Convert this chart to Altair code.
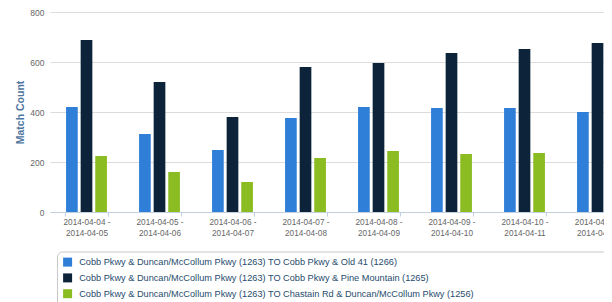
import altair as alt
import pandas as pd

periods = [
    "2014-04-04 - 2014-04-05",
    "2014-04-05 - 2014-04-06",
    "2014-04-06 - 2014-04-07",
    "2014-04-07 - 2014-04-08",
    "2014-04-08 - 2014-04-09",
    "2014-04-09 - 2014-04-10",
    "2014-04-10 - 2014-04-11",
    "2014-04-11 - 2014-04-12",
]
series = [
    "Cobb Pkwy & Duncan/McCollum Pkwy (1263) TO Cobb Pkwy & Old 41 (1266)",
    "Cobb Pkwy & Duncan/McCollum Pkwy (1263) TO Cobb Pkwy & Pine Mountain (1265)",
    "Cobb Pkwy & Duncan/McCollum Pkwy (1263) TO Chastain Rd & Duncan/McCollum Pkwy (1256)",
]
old41 = [420, 312, 248, 376, 420, 416, 416, 400]
pine_mountain = [688, 520, 380, 580, 596, 636, 652, 676]
chastain = [224, 160, 120, 216, 244, 232, 236, 264]
colors = ["#2f7ed8", "#0d233a", "#8bbc21"]

rows = []
for s, vals in zip(series, [old41, pine_mountain, chastain]):
    for p, v in zip(periods, vals):
        rows.append({"period": p, "series": s, "count": v})
df = pd.DataFrame(rows)

FONT = "Liberation Sans"

bars = alt.Chart(df).mark_bar(clip=True).encode(
    x=alt.X(
        "period:N",
        sort=periods,
        scale=alt.Scale(range=[0, 584], paddingInner=0.4, paddingOuter=0.2),
        axis=alt.Axis(
            title=None,
            labelAngle=0,
            labelExpr="[slice(datum.label, 0, 12), slice(datum.label, 13)]",
            labelFontSize=8.2,
            labelFont=FONT,
            labelColor="#666666",
            labelLineHeight=11,
            labelPadding=2,
            domainColor="#c0d0e0",
            tickColor="#c0d0e0",
            tickSize=4,
            tickBand="extent",
            grid=False,
        ),
    ),
    xOffset=alt.XOffset(
        "series:N", sort=series, scale=alt.Scale(paddingInner=0.2, paddingOuter=0.1)
    ),
    y=alt.Y(
        "count:Q",
        scale=alt.Scale(domain=[0, 800]),
        axis=alt.Axis(
            values=[0, 200, 400, 600, 800],
            title="Match Count",
            titleFont=FONT,
            titleFontSize=10.5,
            titleFontWeight="bold",
            titleColor="#4d759e",
            titleX=-30,
            titleY=100,
            titleBaseline="middle",
            titleAngle=270,
            labelFont=FONT,
            labelFontSize=8.5,
            labelColor="#666666",
            labelPadding=6,
            ticks=False,
            domain=False,
            grid=True,
            gridColor="#dcdcdc",
        ),
    ),
    color=alt.Color(
        "series:N",
        sort=series,
        scale=alt.Scale(domain=series, range=colors),
        legend=alt.Legend(
            title=None,
            orient="none",
            legendX=13,
            legendY=245.5,
            symbolType="square",
            symbolSize=81,
            symbolStrokeWidth=0,
            symbolOpacity=1,
            labelFont=FONT,
            labelFontSize=9.2,
            labelColor="#274b6d",
            labelLimit=700,
            labelOffset=7,
            rowPadding=5.8,
            padding=0,
        ),
    ),
)

frame = alt.Chart(pd.DataFrame({"a": [0]})).mark_rect(
    fill=None, stroke="#c8c8c8", strokeWidth=1, cornerRadius=5
).encode(
    x=alt.value(7.5),
    x2=alt.value(700),
    y=alt.value(240),
    y2=alt.value(340),
)

chart = alt.layer(frame, bars).properties(
    width=554,
    height=200,
    autosize=alt.AutoSizeParams(type="none"),
    padding={"left": 42, "top": 4, "right": 0, "bottom": 90},
).configure_view(stroke=None)

chart.save("out.html", embed_options={"renderer": "svg", "actions": False})
